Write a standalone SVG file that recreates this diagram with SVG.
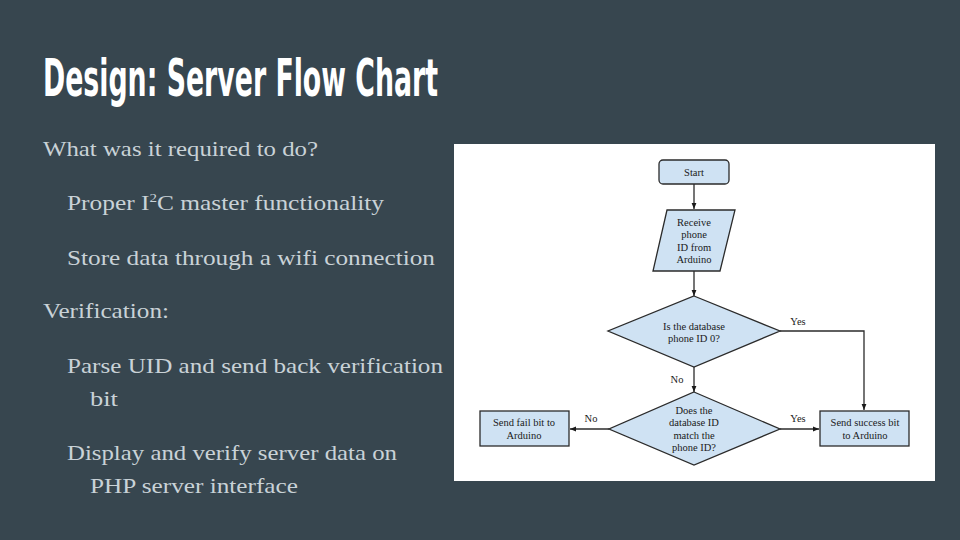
<svg xmlns="http://www.w3.org/2000/svg" width="960" height="540" viewBox="0 0 960 540">
<defs>
<style>
.title{font-family:"Liberation Sans Narrow","DejaVu Sans Condensed","Liberation Sans",sans-serif;font-size:51px;font-weight:bold;fill:#ffffff;}
.body{font-family:"Liberation Serif","DejaVu Serif",serif;font-size:22px;fill:#c9d2d7;}
.node{fill:#cfe2f3;stroke:#2b2b2b;stroke-width:1.3;}
.lbl{font-family:"Liberation Serif","Times New Roman",serif;font-size:10.5px;fill:#1a1a1a;text-anchor:middle;}
.edge{fill:none;stroke:#2b2b2b;stroke-width:1.3;}
</style>
<marker id="ah" viewBox="0 0 10 10" refX="10" refY="5" markerWidth="6" markerHeight="6" markerUnits="userSpaceOnUse" orient="auto">
<path d="M0,1 L10,5 L0,9 z" fill="#1a1a1a"/>
</marker>
</defs>
<rect x="0" y="0" width="960" height="540" fill="#37464f"/>
<text class="title" x="43" y="96" textLength="395" lengthAdjust="spacingAndGlyphs">Design: Server Flow Chart</text>
<g id="bullets">
<text class="body" x="43" y="156" textLength="275" lengthAdjust="spacingAndGlyphs">What was it required to do?</text>
<text class="body" x="67" y="210" textLength="317" lengthAdjust="spacingAndGlyphs">Proper I<tspan font-size="13" dy="-8">2</tspan><tspan dy="8">C master functionality</tspan></text>
<text class="body" x="67" y="265" textLength="368" lengthAdjust="spacingAndGlyphs">Store data through a wifi connection</text>
<text class="body" x="43" y="318" textLength="126" lengthAdjust="spacingAndGlyphs">Verification:</text>
<text class="body" x="67" y="373" textLength="376" lengthAdjust="spacingAndGlyphs">Parse UID and send back verification</text>
<text class="body" x="90" y="406" textLength="28" lengthAdjust="spacingAndGlyphs">bit</text>
<text class="body" x="67" y="460" textLength="330" lengthAdjust="spacingAndGlyphs">Display and verify server data on</text>
<text class="body" x="90" y="493" textLength="208" lengthAdjust="spacingAndGlyphs">PHP server interface</text>
</g>
<rect x="454" y="144" width="481" height="337" fill="#ffffff"/>
<g id="connectors">
<line class="edge" x1="694" y1="184" x2="694" y2="209" marker-end="url(#ah)"/>
<line class="edge" x1="694" y1="271" x2="694" y2="296" marker-end="url(#ah)"/>
<polyline class="edge" points="780,331 864,331 864,410" marker-end="url(#ah)"/>
<line class="edge" x1="694" y1="367" x2="694" y2="392" marker-end="url(#ah)"/>
<line class="edge" x1="609" y1="429" x2="570" y2="429" marker-end="url(#ah)"/>
<line class="edge" x1="780" y1="429" x2="819" y2="429" marker-end="url(#ah)"/>
<text class="lbl" x="798" y="325">Yes</text>
<text class="lbl" x="677" y="383">No</text>
<text class="lbl" x="591" y="422">No</text>
<text class="lbl" x="798" y="422">Yes</text>
</g>
<g id="start">
<rect class="node" x="659" y="160" width="70" height="24" rx="4"/>
<text class="lbl" x="694" y="176">Start</text>
</g>
<g id="receive">
<polygon class="node" points="667,210 735,210 720,271 653,271"/>
<text class="lbl" x="694" y="226">Receive</text>
<text class="lbl" x="694" y="238">phone</text>
<text class="lbl" x="694" y="251">ID from</text>
<text class="lbl" x="694" y="263">Arduino</text>
</g>
<g id="decision1">
<polygon class="node" points="694,296 780,331 694,367 608,331"/>
<text class="lbl" x="694" y="330">Is the database</text>
<text class="lbl" x="694" y="342">phone ID 0?</text>
</g>
<g id="decision2">
<polygon class="node" points="694,392 780,429 694,465 609,429"/>
<text class="lbl" x="694" y="414">Does the</text>
<text class="lbl" x="694" y="426">database ID</text>
<text class="lbl" x="694" y="439">match the</text>
<text class="lbl" x="694" y="451">phone ID?</text>
</g>
<g id="fail">
<rect class="node" x="480" y="411" width="89" height="35"/>
<text class="lbl" x="524" y="426">Send fail bit to</text>
<text class="lbl" x="524" y="439">Arduino</text>
</g>
<g id="success">
<rect class="node" x="820" y="411" width="89" height="35"/>
<text class="lbl" x="865" y="426">Send success bit</text>
<text class="lbl" x="865" y="439">to Arduino</text>
</g>
</svg>
